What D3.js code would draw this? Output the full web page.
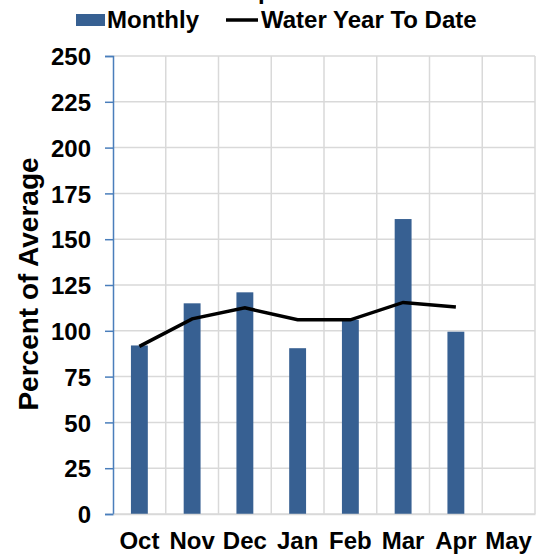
<!DOCTYPE html>
<html>
<head>
<meta charset="utf-8">
<script src="https://cdn.jsdelivr.net/npm/d3@7"></script>
<style>
  body { margin: 0; background: #fff; }
  text { font-family: "Liberation Sans", Arial, sans-serif; font-weight: bold; fill: #000; }
</style>
</head>
<body>
<div id="chart"></div>
<script>
const months = ["Oct", "Nov", "Dec", "Jan", "Feb", "Mar", "Apr", "May"];
const monthly = [92, 115, 121, 90.5, 106, 161, 99.5];
const waterYearToDate = [91.5, 106.5, 112.5, 106, 106, 115.5, 113];
const yTicks = [0, 25, 50, 75, 100, 125, 150, 175, 200, 225, 250];

const W = 546, H = 557;
const margin = { top: 56, right: 11, bottom: 43, left: 113 };
const width = W - margin.left - margin.right,
      height = H - margin.top - margin.bottom;

const svg = d3.select("#chart").append("svg")
  .attr("width", W).attr("height", H);

// title sits mostly above the visible area
svg.append("text")
  .attr("x", 272).attr("y", -1)
  .attr("text-anchor", "middle")
  .style("font-size", "24px")
  .text("Precipitation");

const g = svg.append("g").attr("transform", `translate(${margin.left},${margin.top})`);

const x = d3.scaleBand().domain(months).range([0, width]).padding(0);
const y = d3.scaleLinear().domain([0, 250]).range([height, 0]);

// gridlines
g.selectAll(".hgrid").data(yTicks).enter().append("line")
  .attr("x1", 0).attr("x2", width)
  .attr("y1", d => y(d)).attr("y2", d => y(d))
  .attr("stroke", "#d9d9d9").attr("stroke-width", 1.5);
g.selectAll(".vgrid").data(months.slice(1)).enter().append("line")
  .attr("x1", d => x(d)).attr("x2", d => x(d))
  .attr("y1", 0).attr("y2", height)
  .attr("stroke", "#d9d9d9").attr("stroke-width", 1.5);
g.append("line").attr("x1", width).attr("x2", width).attr("y1", 0).attr("y2", height)
  .attr("stroke", "#d9d9d9").attr("stroke-width", 1.5);

// bars
const bw = x.bandwidth() * 0.32;
g.selectAll(".bar").data(monthly).enter().append("rect")
  .attr("x", (d, i) => x(months[i]) + x.bandwidth() / 2 - bw / 2)
  .attr("y", d => y(d))
  .attr("width", bw)
  .attr("height", d => height - y(d))
  .attr("fill", "#376092");

// water year line
const line = d3.line()
  .x((d, i) => x(months[i]) + x.bandwidth() / 2)
  .y(d => y(d));
g.append("path").datum(waterYearToDate)
  .attr("d", line)
  .attr("fill", "none")
  .attr("stroke", "#000")
  .attr("stroke-width", 3.5);

// y axis
const yAxis = g.append("g").call(d3.axisLeft(y).tickValues(yTicks).tickSize(8).tickPadding(14));
yAxis.select(".domain").attr("stroke", "#4a7ebb").attr("stroke-width", 1.5);
yAxis.selectAll(".tick line").attr("stroke", "#4a7ebb").attr("stroke-width", 1.5);
yAxis.selectAll(".tick text")
  .style("font-size", "24px")
  .attr("fill", "#000").attr("dy", "0.36em");

// x axis
const xAxis = g.append("g").attr("transform", `translate(0,${height})`)
  .call(d3.axisBottom(x).tickSize(0).tickPadding(18));
xAxis.select(".domain").attr("stroke", "#d9d9d9").attr("stroke-width", 1.5);
xAxis.selectAll(".tick text")
  .style("font-size", "24px")
  .attr("fill", "#000");

// y title
svg.append("text")
  .attr("transform", `translate(38,284) rotate(-90)`)
  .attr("text-anchor", "middle")
  .style("font-size", "28px")
  .text("Percent of Average");

// legend
const leg = svg.append("g");
leg.append("rect").attr("x", 76).attr("y", 14).attr("width", 29).attr("height", 12).attr("fill", "#376092");
leg.append("text").attr("x", 107).attr("y", 28)
  .style("font-size", "24px").text("Monthly");
leg.append("line").attr("x1", 226).attr("x2", 258).attr("y1", 20).attr("y2", 20)
  .attr("stroke", "#000").attr("stroke-width", 3.5);
leg.append("text").attr("x", 261).attr("y", 28)
  .style("font-size", "24px").text("Water Year To Date");
</script>
</body>
</html>
